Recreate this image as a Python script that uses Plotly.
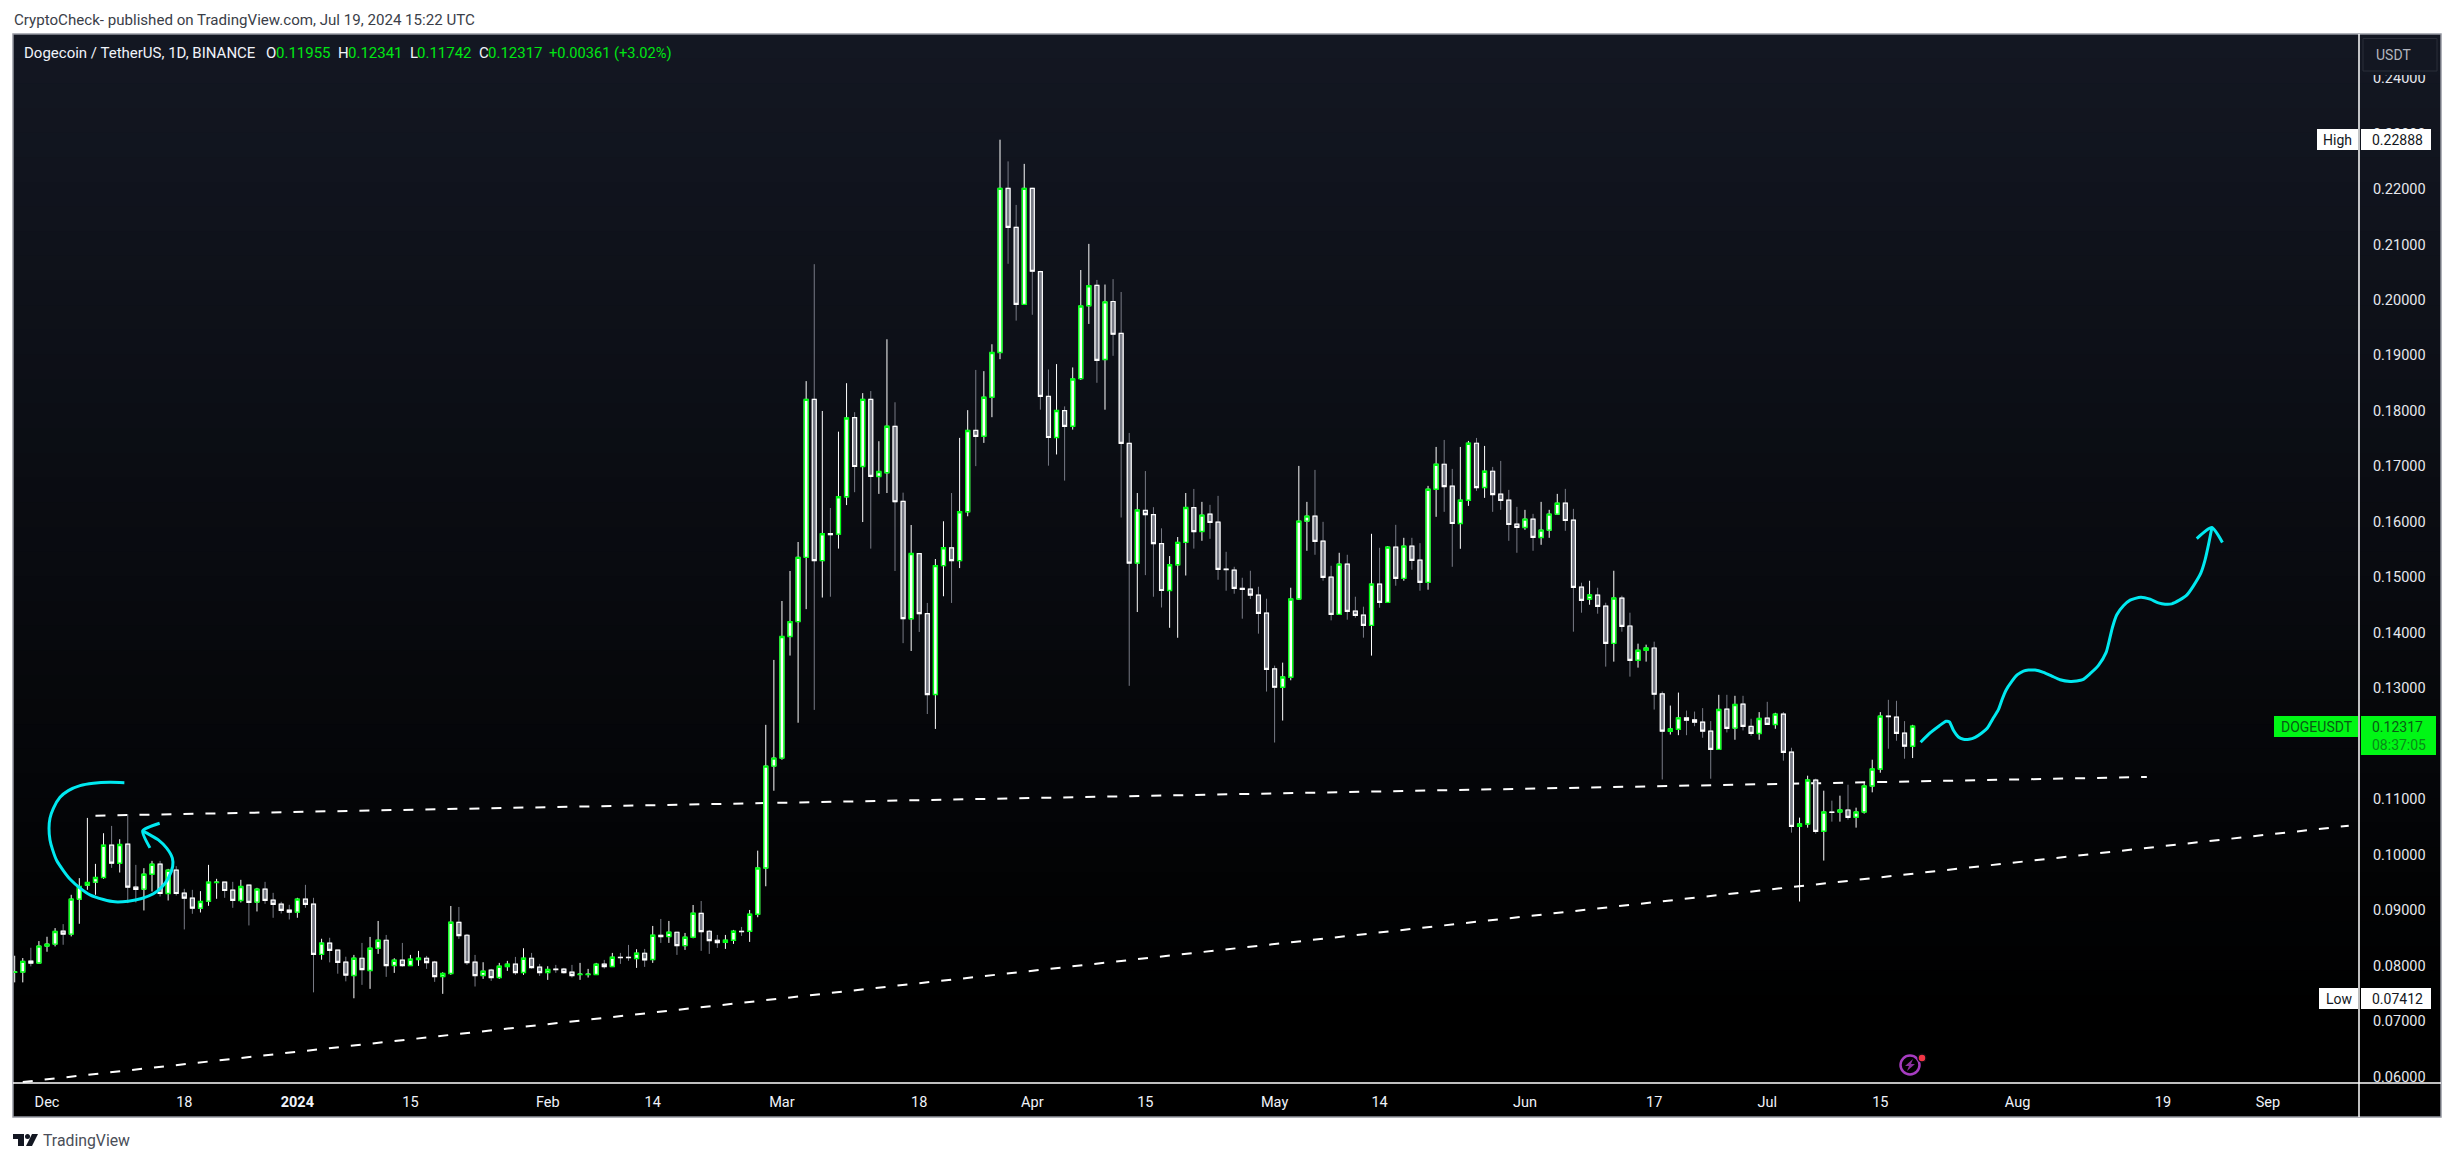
import pandas as pd
import plotly.graph_objects as go

W, H = 2454, 1162
AX_L, AX_R, AX_T, AX_B = 13, 2359, 34, 1083
FRAME_R, FRAME_B = 2441, 1117

FIRST_DAY = "2023-11-27"
TICK_SCALE = 1e-5   # the lists below are in 0.00001 USDT ticks

opens = [7880,7885,8083,8047,8353,8389,8623,8569,9199,9451,
 9505,9589,10171,9847,10189,9415,9379,9649,9829,9301,
 9721,9307,9217,9037,9163,9499,9505,9361,9175,9451,
 9145,9379,9181,9109,9001,8965,9199,9109,8203,8407,
 8281,8065,7822,8134,7912,8314,8458,8002,8098,8002,
 8110,8134,8062,7804,7858,8782,8548,8062,7822,7918,
 7786,7984,8026,7876,8134,7972,7876,7936,7936,7882,
 7840,7840,7840,8026,7984,8152,8152,8128,8224,8110,
 8548,8524,8602,8362,8512,8944,8620,8458,8422,8458,
 8620,8620,8926,9761,11597,11741,13933,14202,15360,18207,
 15301,15786,15779,16451,17879,16997,18207,16818,16885,17722,
 16369,14254,15428,14344,12887,15211,15532,15301,16182,17647,
 17542,18245,19052,22011,21309,19919,22011,20509,18260,17520,
 18006,17722,18581,19896,20263,18925,19971,19396,17415,15256,
 16205,16130,15607,14762,15226,15629,16257,15826,16138,15994,
 15148,15130,14800,14788,14680,14356,13348,13018,13198,14608,
 16012,16102,15652,15004,14332,15238,14392,14320,14134,14878,
 14548,15544,14980,15562,15310,14908,16588,17038,16642,15970,
 16390,17416,16618,16912,16498,16390,15958,15898,16048,15718,
 15850,16138,16336,16030,14824,14608,14680,14482,13810,14626,
 14122,13504,13684,13726,12898,12226,12262,12466,12430,12390,
 12228,11898,12624,12282,12714,12312,12186,12462,12348,12534,
 11850,10512,10554,11346,10422,10770,10770,10806,10674,10770,
 11238,11544,12498,12480,12192,11955]

highs = [8179,8137,8323,8443,8521,8677,8749,9277,9577,10663,
 9835,10387,10519,10279,10729,9817,9757,9889,9889,9745,
 9793,9385,9367,9343,9817,9565,9505,9511,9547,9451,
 9403,9511,9313,9151,9097,9223,9457,9223,8485,8503,
 8281,8161,8194,8410,8518,8806,8554,8134,8410,8194,
 8266,8176,8086,7882,9076,9058,8572,8194,8062,7942,
 8050,8086,8158,8314,8230,8032,7990,8014,7960,8014,
 8050,7942,8050,8104,8230,8230,8374,8296,8302,8716,
 8842,8806,8602,8590,9094,9166,8644,8554,8554,8644,
 8698,9004,10073,12341,13511,14573,15114,15637,18536,20644,
 17998,16250,17625,18499,17976,18320,18357,17453,19291,18155,
 16526,15943,15428,14538,15330,16010,16519,17513,18013,18738,
 18716,19201,22888,22497,21712,22452,22020,20524,18746,18843,
 18081,18783,20539,21010,20360,20277,20375,20143,17602,16519,
 16915,16264,15883,15383,15726,16519,16593,16360,16306,16468,
 15460,15190,14992,15118,14830,14614,13408,13462,14812,17008,
 16360,16936,16000,15208,15442,15406,14650,14470,15784,15532,
 15560,15946,15712,15712,15616,16648,17350,17476,16954,17350,
 17458,17512,17368,16990,17098,16576,16270,16216,16144,16360,
 16216,16504,16594,16234,14902,14938,14812,14542,15118,14668,
 14362,13804,13786,13840,12940,12688,12922,12598,12580,12642,
 12408,12882,12882,12864,12864,12450,12570,12756,12558,12570,
 11928,10668,11424,11370,11154,10974,11064,11262,10848,11292,
 11712,12570,12792,12774,12408,12341]

lows = [7699,7699,7987,8035,8251,8347,8377,8527,8755,9367,
 9277,9565,9763,9679,9127,9139,8995,9337,9247,9175,
 9265,8653,8935,8959,9079,9205,9223,9043,9139,8725,
 8977,9115,8863,8941,8833,8863,9043,7519,8107,8059,
 7855,7717,7412,7654,7582,8212,7798,7870,7984,8000,
 7996,7942,7708,7492,7834,8482,8014,7624,7762,7726,
 7762,7906,7834,7834,7948,7816,7744,7870,7858,7786,
 7744,7786,7834,7948,7980,8032,8086,7960,7978,8050,
 8410,8410,8194,8284,8494,8266,8212,8320,8302,8392,
 8536,8428,8873,9431,11153,11711,13589,12379,14426,12610,
 14635,14650,15517,16302,16534,15996,15517,16504,16519,15114,
 13813,13672,14015,12536,12267,14658,14538,15166,16100,17004,
 17423,17886,18932,20651,19627,19910,19732,18021,17012,17214,
 16743,17662,18559,19567,18506,18021,18992,16078,13044,14374,
 15039,14650,14456,14090,13910,15032,15517,15658,15694,14956,
 14758,14704,14254,14608,13984,12940,12022,12418,13144,14596,
 15478,15406,14938,14224,14326,14236,14272,13912,13588,14452,
 14540,14848,14938,15136,14758,14776,16090,16180,15190,15514,
 16288,16558,16432,16180,16216,15658,15442,15856,15478,15586,
 15712,16126,15838,14020,14362,14506,14344,13390,13480,14020,
 13210,13372,13480,12616,11356,12166,12154,12154,12316,12108,
 11370,11890,12204,12072,12240,12144,12072,12340,12270,11694,
 10398,9156,10488,10380,9894,10596,10596,10632,10488,10740,
 11124,11478,11910,12054,11730,11742]

closes = [7885,8077,8047,8353,8389,8617,8569,9199,9427,9499,
 9589,10171,9847,10183,9415,9373,9649,9829,9301,9721,
 9301,9217,9037,9157,9505,9505,9355,9175,9427,9139,
 9379,9175,9103,8995,8965,9199,9103,8203,8407,8275,
 8059,7831,8134,7930,8314,8458,8002,8098,8002,8116,
 8134,8056,7804,7858,8782,8542,8056,7822,7900,7786,
 7990,8026,7876,8134,7966,7876,7930,7930,7876,7822,
 7846,7846,8026,7984,8152,8146,8146,8224,8104,8548,
 8524,8602,8362,8512,8944,8614,8452,8416,8458,8620,
 8614,8926,9761,11597,11741,13933,14202,15360,18207,15301,
 15786,15770,16451,17871,16997,18207,16818,16907,17722,16362,
 14254,15428,14344,12887,15211,15532,15301,16182,17647,17542,
 18245,19052,22011,21309,19919,22011,20517,18260,17520,18006,
 17722,18574,19889,20255,18910,19964,19381,17415,15256,16212,
 16130,15607,14762,15226,15629,16257,15824,16120,15988,15142,
 15140,14800,14782,14680,14350,13342,13018,13204,14608,16012,
 16102,15646,14998,14332,15238,14386,14314,14134,14878,14548,
 15544,14980,15562,15304,14908,16588,17038,16636,15970,16390,
 17416,16618,16912,16492,16384,15952,15898,16048,15718,15850,
 16138,16336,16024,14818,14584,14680,14476,13810,14626,14116,
 13504,13684,13726,12892,12226,12268,12466,12424,12388,12228,
 11898,12618,12276,12708,12312,12186,12456,12348,12534,11844,
 10512,10554,11346,10422,10770,10764,10806,10674,10770,11238,
 11544,12498,12490,12186,11956,12317]

support_dates = ["2023-11-28", "2024-09-11"]
support_prices = [0.05903, 0.10523]
neckline_dates = ["2023-12-07", "2024-08-17"]
neckline_prices = [0.10703, 0.11401]

DAY_ZERO = pd.Timestamp("2023-12-01")
forecast_days = [231.99,233.16,234.32,235.15,235.56,236.05,236.67,237.29,238.0,238.74,239.56,240.26,240.92,241.62,242.04,242.53,243.28,243.98,244.72,245.34,246.16,247.2,248.23,249.26,250.5,251.32,252.07,252.97,254.01,254.96,255.37,255.74,256.28,257.1,257.93,259.25,260.4,261.43,262.26,263.09,264.03,264.94,265.77,266.68,267.21,267.63,268.04]
forecast_prices = [.12026,.12194,.12326,.12404,.12392,.12242,.12122,.1208,.1208,.12116,.12194,.12284,.12446,.12614,.12782,.12956,.13124,.13244,.1331,.13328,.13328,.13286,.1322,.13154,.13124,.1313,.13154,.13262,.13412,.13646,.13874,.14096,.14324,.14486,.14588,.14642,.14606,.1454,.14516,.14522,.14588,.14678,.14846,.15074,.15314,.15584,.15884]
forecast_head_days = [266.18,268.04,269.36]
forecast_head_prices = [.15698,.15896,.15626]
loop_days = [9.58,7.8,5.74,4.09,2.64,1.61,.79,.37,.25,.37,.7,1.2,2.02,2.93,4.09,5.32,6.98,8.42,10.07,11.72,13.17,14.2,15.02,15.56,15.52,14.82,13.79,12.75,11.85]
loop_prices = [.11299,.11305,.11287,.11245,.11155,.11035,.10837,.10657,.10477,.10267,.10087,.09895,.09715,.09547,.09397,.09277,.09193,.09151,.09163,.09211,.09295,.09415,.09577,.09787,.09937,.10117,.10267,.10357,.10429]
loop_head_days = [13.95,11.85,12.75]
loop_head_prices = [.10567,.10429,.10123]

tick_dates = ["2023-12-01","2023-12-18","2024-01-01","2024-01-15","2024-02-01","2024-02-14","2024-03-01","2024-03-18","2024-04-01","2024-04-15","2024-05-01","2024-05-14","2024-06-01","2024-06-17","2024-07-01","2024-07-15","2024-08-01","2024-08-19","2024-09-01"]
tick_labels = ["Dec","18","<b>2024</b>","15","Feb","14","Mar","18","Apr","15","May","14","Jun","17","Jul","15","Aug","19","Sep"]
price_ticks = [0.06,0.07,0.08,0.09,0.10,0.11,0.12,0.13,0.14,0.15,0.16,0.17,0.18,0.19,0.20,0.21,0.22,0.23,0.24]

dates = pd.date_range(FIRST_DAY, periods=len(opens), freq="D")
o = [v * TICK_SCALE for v in opens]
h = [v * TICK_SCALE for v in highs]
l = [v * TICK_SCALE for v in lows]
c = [v * TICK_SCALE for v in closes]
body_hi = [max(a, b) for a, b in zip(o, c)]
body_lo = [min(a, b) for a, b in zip(o, c)]

GREEN = "#00e613"
BORDER_GREEN = "#00ff14"
GRAY = "#787b86"
CYAN = "#00e9f0"
FONT = "Roboto"

def to_dates(days):
    return [DAY_ZERO + pd.Timedelta(days=d) for d in days]

def px(x):
    return (x - AX_L) / (AX_R - AX_L)

def py(y):
    return (AX_B - y) / (AX_B - AX_T)

def rect(x0, y0, x1, y1, fill, line=None, layer="above", width=1):
    return dict(type="rect", xref="paper", yref="paper", x0=px(x0), x1=px(x1), y0=py(y0), y1=py(y1),
                fillcolor=fill, line=dict(color=line or fill, width=width if line else 0), layer=layer)

def poly(points, fill):
    d = "M" + " L".join(f"{px(a):.5f},{py(b):.5f}" for a, b in points) + " Z"
    return dict(type="path", xref="paper", yref="paper", path=d, fillcolor=fill, line=dict(width=0), layer="above")

def text(x, y, s, color, size=15, anchor="left"):
    return dict(xref="paper", yref="paper", x=px(x), y=py(y), text=s, showarrow=False, xanchor=anchor,
                yanchor="middle", font=dict(family=FONT, size=size, color=color), borderpad=0)

fig = go.Figure()

# wicks (and a base body), then the bordered bodies on top
fig.add_trace(go.Candlestick(x=dates, open=o, high=h, low=l, close=c, whiskerwidth=0, hoverinfo="skip",
    increasing=dict(line=dict(color="#ffffff", width=1), fillcolor="#ffffff"),
    decreasing=dict(line=dict(color=GRAY, width=1), fillcolor=GRAY), showlegend=False))
fig.add_trace(go.Candlestick(x=dates, open=o, high=body_hi, low=body_lo, close=c, whiskerwidth=0, hoverinfo="skip",
    increasing=dict(line=dict(color=BORDER_GREEN, width=1.4), fillcolor="#ffffff"),
    decreasing=dict(line=dict(color="#ffffff", width=1.2), fillcolor=GRAY), showlegend=False))

for xs, ys in [(loop_days, loop_prices), (loop_head_days, loop_head_prices),
               (forecast_days, forecast_prices), (forecast_head_days, forecast_head_prices)]:
    fig.add_trace(go.Scatter(x=to_dates(xs), y=ys, mode="lines", hoverinfo="skip", showlegend=False,
                             line=dict(color=CYAN, width=3, shape="spline", smoothing=0.6)))

shapes = []
# background gradient of the whole chart frame
TOP = (19, 23, 34)
BANDS = 40
GRAD_END = 1020
for i in range(BANDS):
    t = i / (BANDS - 1)
    col = "rgb({},{},{})".format(*[round(v * (1 - t)) for v in TOP])
    y0 = AX_T + (GRAD_END - AX_T) * i / BANDS
    shapes.append(rect(AX_L, y0, FRAME_R, FRAME_B, col, layer="below"))
# trend lines
for xs, ys in [(support_dates, support_prices), (neckline_dates, neckline_prices)]:
    shapes.append(dict(type="line", xref="x", yref="y", x0=xs[0], x1=xs[1], y0=ys[0], y1=ys[1], layer="below",
                       line=dict(color="#ffffff", width=2, dash="10px,12px")))
# frame and axis lines
shapes.append(rect(2360, AX_T + .5, FRAME_R - 1, 75, "#131722"))
shapes.append(rect(2363, 38.5, 2437, 71, "#131722", "#2a2e39"))
shapes.append(dict(type="rect", xref="paper", yref="paper", x0=px(AX_L), x1=px(FRAME_R), y0=py(AX_T), y1=py(FRAME_B),
                   line=dict(color="#9598a1", width=1.5), layer="above"))
shapes.append(dict(type="line", xref="paper", yref="paper", x0=px(AX_L), x1=px(FRAME_R), y0=py(AX_B), y1=py(AX_B),
                   line=dict(color="#ffffff", width=1.5), layer="above"))
shapes.append(dict(type="line", xref="paper", yref="paper", x0=px(AX_R), x1=px(AX_R), y0=py(AX_T), y1=py(FRAME_B),
                   line=dict(color="#ffffff", width=1.5), layer="above"))
# price tags
shapes += [rect(2317, 129, 2358, 150, "#ffffff"), rect(2361, 129, 2431, 150, "#ffffff"),
           rect(2319, 988, 2358, 1009, "#ffffff"), rect(2361, 988, 2431, 1009, "#ffffff"),
           rect(2274, 716, 2358, 737, "#00f715"), rect(2361, 716, 2436, 755, "#00f715")]
# lightning badge
shapes.append(dict(type="circle", xref="paper", yref="paper", x0=px(1900.5), x1=px(1919.5), y0=py(1055.5), y1=py(1074.5),
                   line=dict(color="#a63cc0", width=2.5), layer="above"))
shapes.append(poly([(1913,1059),(1905,1066),(1909,1066),(1907,1071),(1915,1064),(1911,1064)], "#8a2f9e"))
shapes.append(dict(type="circle", xref="paper", yref="paper", x0=px(1918), x1=px(1926), y0=py(1054), y1=py(1062),
                   fillcolor="#f23645", line=dict(color="#0a0a10", width=1.5), layer="above"))
# logo
shapes += [poly([(13,1134),(24,1134),(24,1146),(18,1146),(18,1139),(13,1139)], "#131722"),
           poly([(32,1134),(38,1134),(32,1146),(26,1146)], "#131722")]
shapes.append(dict(type="circle", xref="paper", yref="paper", x0=px(25), x1=px(30), y0=py(1134), y1=py(1139),
                   fillcolor="#131722", line=dict(width=0), layer="above"))

WHITE_T = "#f0f3fa"
annotations = [
    text(13, 20, "CryptoCheck- published on TradingView.com, Jul 19, 2024 15:22 UTC", "#3a3e48", 15.1),
    text(23, 53, "Dogecoin / TetherUS, 1D, BINANCE", WHITE_T, 15),
    text(265, 53, "O", WHITE_T, 15), text(275, 53, "0.11955", GREEN, 15),
    text(337, 53, "H", WHITE_T, 15), text(347, 53, "0.12341", GREEN, 15),
    text(409, 53, "L", WHITE_T, 15), text(416, 53, "0.11742", GREEN, 15),
    text(478, 53, "C", WHITE_T, 15), text(487, 53, "0.12317", GREEN, 15),
    text(548, 53, "+0.00361 (+3.02%)", GREEN, 14.6),
    text(2375, 55, "USDT", "#b2b5be", 14),
    text(2322, 139.5, "High", "#131722", 14), text(2371, 139.5, "0.22888", "#131722", 14),
    text(2325, 998.5, "Low", "#131722", 14), text(2371, 998.5, "0.07412", "#131722", 14),
    text(2280, 726.5, "DOGEUSDT", "#0a5a14", 14), text(2371, 726.5, "0.12317", "#0a5a14", 14),
    text(2371, 744.5, "08:37:05", "#0a8a18", 14),
    text(42, 1140, "TradingView", "#4a4e58", 15.8),
]

x_left = DAY_ZERO + pd.Timedelta(days=-4.21)
x_right = DAY_ZERO + pd.Timedelta(days=286.27)

fig.update_layout(
    width=W, height=H, autosize=False,
    margin=dict(l=AX_L, r=W - AX_R, t=AX_T, b=H - AX_B, pad=0),
    paper_bgcolor="#ffffff", plot_bgcolor="rgba(0,0,0,0)",
    showlegend=False, shapes=shapes, annotations=annotations,
    xaxis=dict(type="date", range=[x_left, x_right], rangeslider=dict(visible=False), showgrid=False, zeroline=False,
               tickmode="array", tickvals=tick_dates, ticktext=tick_labels, ticks="outside", ticklen=6,
               tickcolor="rgba(0,0,0,0)", tickangle=0, showline=False,
               tickfont=dict(family=FONT, size=14.5, color=WHITE_T)),
    yaxis=dict(side="right", range=[0.05885, 0.24793], showgrid=False, zeroline=False,
               tickmode="array", tickvals=price_ticks, tickformat=".5f", ticks="outside", ticklen=10,
               tickcolor="rgba(0,0,0,0)", showline=False,
               tickfont=dict(family=FONT, size=14.5, color="#e6e8ee")),
)

fig.write_html("out.html", post_script="document.body.style.margin='0';",
               config=dict(displayModeBar=False))
